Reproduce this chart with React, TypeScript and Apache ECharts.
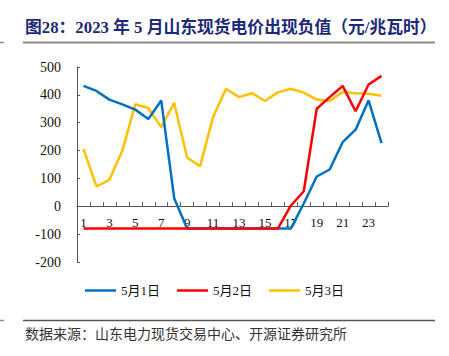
import React, { useEffect, useRef } from "react";
import * as echarts from "echarts";

const categories = ["1","2","3","4","5","6","7","8","9","10","11","12","13","14","15","16","17","18","19","20","21","22","23","24"];
const may1 = [432, 414, 383, 366, 347, 313, 380, 29, -80, -80, -80, -80, -80, -80, -80, -80, -80, 10, 107, 132, 230, 275, 380, 227];
const may2 = [-80, -80, -80, -80, -80, -80, -80, -80, -80, -80, -80, -80, -80, -80, -80, -80, 2, 54, 350, 392, 432, 341, 437, 468];
const may3 = [206, 71, 95, 200, 366, 353, 284, 371, 174, 144, 320, 422, 392, 406, 378, 409, 422, 408, 383, 378, 410, 406, 404, 397];
const seriesNames = ["5月1日", "5月2日", "5月3日"];
const colors = ["#0070C0", "#FF0000", "#FFC000"];
const titleText = "图28：2023 年 5 月山东现货电价出现负值（元/兆瓦时）";
const sourceText = "数据来源：山东电力现货交易中心、开源证券研究所";

const SERIF = "'Liberation Serif', 'Times New Roman', 'Noto Sans CJK SC', serif";

export default function App() {
  const ref = useRef<HTMLDivElement>(null);
  useEffect(() => {
    if (!ref.current) return;
    const chart = echarts.init(ref.current, undefined, { renderer: "svg" });
    const data = [may1, may2, may3];
    const gridTop = 67;
    const gridBottom = 94;
    const plotH = 356 - gridTop - gridBottom;
    const zeroOffset = (plotH * 200) / 700;
    chart.setOption({
      animation: false,
      backgroundColor: "#ffffff",
      grid: { left: 77, right: 61, top: gridTop, bottom: gridBottom },
      legend: {
        left: 85,
        top: 284,
        padding: 0,
        icon: "rect",
        itemWidth: 31,
        itemHeight: 2.5,
        itemGap: 17,
        textStyle: { fontFamily: SERIF, fontSize: 13, color: "#111" },
        data: seriesNames,
      },
      xAxis: {
        type: "category",
        data: categories,
        boundaryGap: true,
        offset: -zeroOffset,
        axisLine: { onZero: false, lineStyle: { color: "#555", width: 1 } },
        axisTick: { show: true, inside: true, length: 4, interval: 0, lineStyle: { color: "#555" } },
        axisLabel: { interval: 1, margin: 10, fontFamily: SERIF, fontSize: 13, color: "#111" },
        splitLine: { show: false },
      },
      yAxis: {
        type: "value",
        min: -200,
        max: 500,
        interval: 100,
        axisLine: { show: true, lineStyle: { color: "#555", width: 1 } },
        axisTick: { show: true, inside: true, length: 3, lineStyle: { color: "#555" } },
        axisLabel: { margin: 16, fontFamily: SERIF, fontSize: 14, color: "#111" },
        splitLine: { show: false },
      },
      series: data.map((d, i) => ({
        name: seriesNames[i],
        type: "line",
        data: d,
        symbol: "none",
        lineStyle: { color: colors[i], width: 2.5 },
        itemStyle: { color: colors[i] },
        z: i === 0 ? 3 : i === 1 ? 4 : 2,
      })),
      graphic: [
        {
          type: "text",
          left: 25,
          top: 19,
          style: {
            text: titleText,
            font: "bold 16.8px 'Liberation Serif', 'Noto Sans CJK SC', serif",
            fill: "#1c2a78",
          },
        },
        { type: "line", shape: { x1: 23, y1: 42.5, x2: 435, y2: 42.5 }, style: { stroke: "#8a8a8a", lineWidth: 2 } },
        { type: "line", shape: { x1: 0, y1: 42.5, x2: 4, y2: 42.5 }, style: { stroke: "#8a8a8a", lineWidth: 1.5 } },
        { type: "line", shape: { x1: 23, y1: 320.5, x2: 435, y2: 320.5 }, style: { stroke: "#555", lineWidth: 1.5 } },
        { type: "line", shape: { x1: 0, y1: 320.5, x2: 4, y2: 320.5 }, style: { stroke: "#888", lineWidth: 1.5 } },
        {
          type: "text",
          left: 25,
          top: 326,
          style: {
            text: sourceText,
            font: "14px 'Noto Sans CJK SC', sans-serif",
            fill: "#333",
          },
        },
      ],
    });
    return () => chart.dispose();
  }, []);
  return <div ref={ref} style={{ position: "fixed", left: 0, top: 0, width: 449, height: 356 }} />;
}
